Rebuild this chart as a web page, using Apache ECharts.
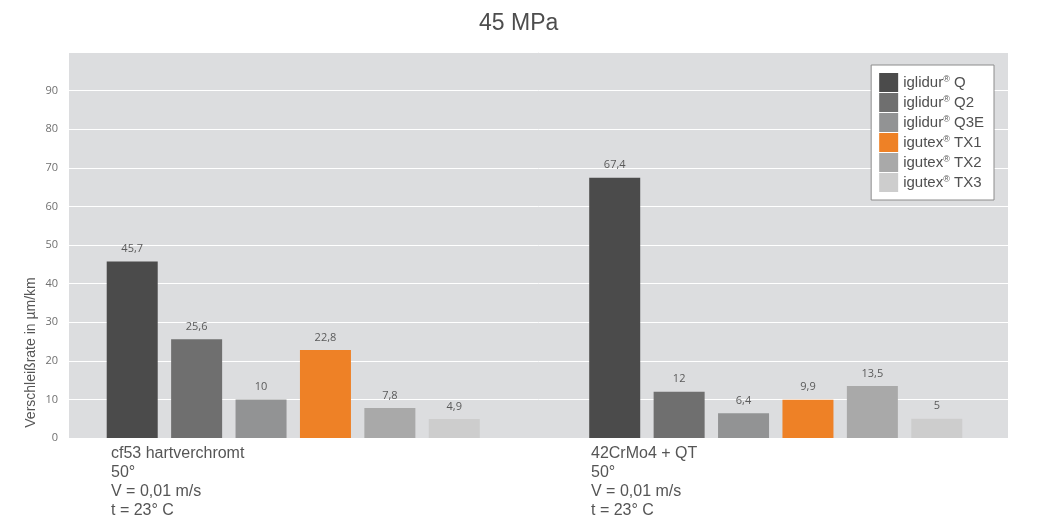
<!DOCTYPE html>
<html>
<head>
<meta charset="utf-8">
<title>45 MPa</title>
<script src="https://cdn.jsdelivr.net/npm/echarts@6/dist/echarts.min.js"></script>
<style>
  html, body { margin: 0; padding: 0; background: #fff; }
  #chart { width: 1046px; height: 523px; }
</style>
</head>
<body>
<div id="chart"></div>
<script>
// categories (shown as multi-line labels under each group)
var categories = [
  'cf53 hartverchromt\n50°\nV = 0,01 m/s\nt = 23° C',
  '42CrMo4 + QT\n50°\nV = 0,01 m/s\nt = 23° C'
]
var seriesNames = ['iglidur® Q', 'iglidur® Q2', 'iglidur® Q3E', 'igutex® TX1', 'igutex® TX2', 'igutex® TX3']
var igQ = [45.7, 67.4]
var igQ2 = [25.6, 12]
var igQ3E = [10, 6.4]
var igTX1 = [22.8, 9.9]
var igTX2 = [7.8, 13.5]
var igTX3 = [4.9, 5]
var yMin = 0
var yMax = 100
var yStep = 10

var colors = ['#4b4b4b', '#6f6f6f', '#929394', '#ee8126', '#a9a9a9', '#cdcdcd']
var values = [igQ, igQ2, igQ3E, igTX1, igTX2, igTX3]

var chart = echarts.init(document.getElementById('chart'))

var series = seriesNames.map(function (name, i) {
  return {
    name: name,
    type: 'bar',
    xAxisIndex: 1,
    yAxisIndex: 1,
    barWidth: 51,
    barGap: '26.3%',
    data: values[i],
    itemStyle: { color: colors[i] },
    label: {
      show: true,
      position: 'top',
      distance: 7,
      fontFamily: 'Open Sans',
      fontSize: 11,
      color: '#5a5a5a',
      formatter: function (p) {
        return String(p.value).replace('.', ',')
      }
    },
    animation: false
  }
})

chart.setOption({
  animation: false,
  title: {
    text: '45 MPa',
    left: 474,
    top: 7,
    textStyle: {
      fontFamily: 'Liberation Sans',
      fontSize: 23,
      fontWeight: 'normal',
      color: '#4d4d4d'
    }
  },
  legend: {
    orient: 'vertical',
    right: 52,
    top: 65,
    padding: [8, 10, 8, 8],
    itemWidth: 19,
    itemHeight: 19,
    itemGap: 1,
    icon: 'rect',
    backgroundColor: '#ffffff',
    borderColor: '#8c8c8c',
    borderWidth: 1,
    data: seriesNames,
    formatter: function (name) {
      return name.replace('®', '{r|®}')
    },
    textStyle: {
      fontFamily: 'Liberation Sans',
      fontSize: 15,
      color: '#505050',
      rich: {
        r: { fontSize: 9, color: '#505050', padding: [0, 0, 6, 0] }
      }
    }
  },
  grid: [
    // plot background + value axis
    { left: 69, right: 38, top: 52, bottom: 85, show: true, backgroundColor: '#dcdddf', borderWidth: 0 },
    // bars
    { left: 52, right: 29, top: 52, bottom: 85 },
    // category text
    { left: 111, right: 455, top: 52, bottom: 85 },
    // axis name
    { left: 69, right: 900, top: 275, bottom: 93 }
  ],
  xAxis: [
    { type: 'category', gridIndex: 0, data: categories, show: false },
    { type: 'category', gridIndex: 1, data: categories, show: false },
    {
      type: 'category',
      gridIndex: 2,
      data: categories,
      boundaryGap: false,
      axisLine: { show: false },
      axisTick: { show: false },
      axisLabel: {
        interval: 0,
        align: 'left',
        margin: 6,
        fontFamily: 'Liberation Sans',
        fontSize: 16,
        lineHeight: 19,
        color: '#555555'
      }
    },
    { type: 'category', gridIndex: 3, data: categories, show: false }
  ],
  yAxis: [
    {
      type: 'value',
      gridIndex: 0,
      min: yMin,
      max: yMax,
      interval: yStep,
      axisLine: { show: false },
      axisTick: { show: false },
      splitLine: { lineStyle: { color: '#ffffff', width: 1 } },
      axisLabel: {
        margin: 11,
        fontFamily: 'Open Sans',
        fontSize: 11,
        color: '#707070',
        formatter: function (v) {
          return v === yMax ? '' : v
        }
      }
    },
    { type: 'value', gridIndex: 1, min: yMin, max: yMax, interval: yStep, show: false },
    { type: 'value', gridIndex: 2, min: yMin, max: yMax, show: false },
    {
      type: 'value',
      gridIndex: 3,
      min: 0,
      max: 1,
      name: 'Verschleißrate in µm/km',
      nameLocation: 'middle',
      nameGap: 31,
      nameRotate: 90,
      nameTextStyle: {
        fontFamily: 'Liberation Sans',
        fontSize: 14,
        color: '#555555'
      },
      axisLine: { show: false },
      axisTick: { show: false },
      axisLabel: { show: false },
      splitLine: { show: false }
    }
  ],
  series: series
})
</script>
</body>
</html>
